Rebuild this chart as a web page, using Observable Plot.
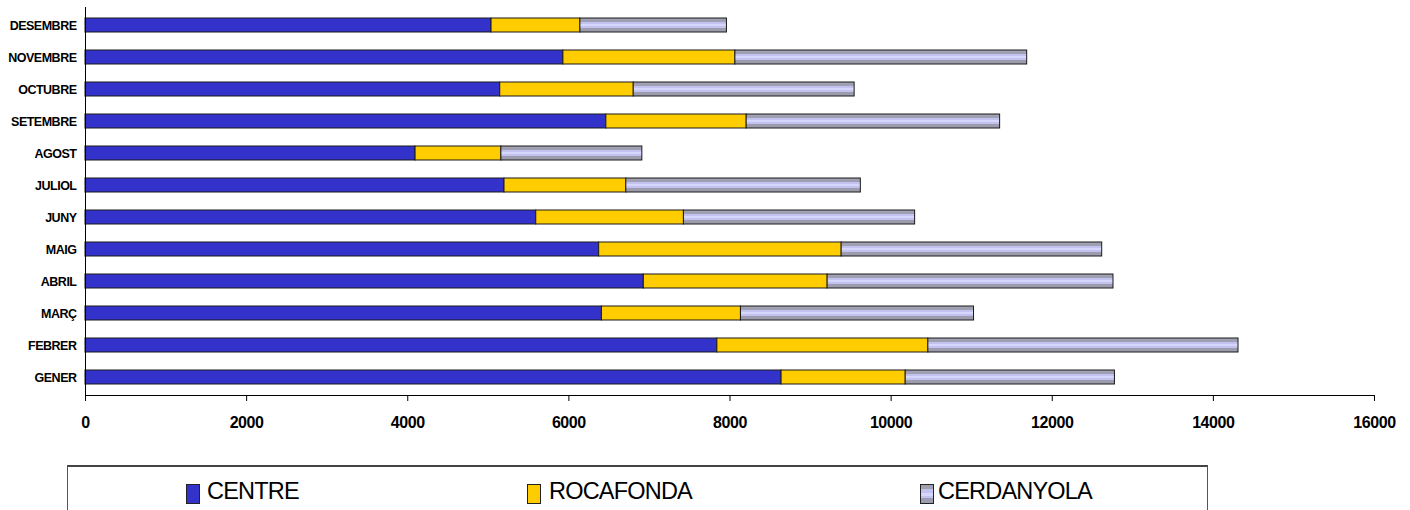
<!DOCTYPE html>
<html>
<head>
<meta charset="utf-8">
<script src="https://cdn.jsdelivr.net/npm/d3@7"></script>
<script src="https://cdn.jsdelivr.net/npm/@observablehq/plot@0.6"></script>
<style>
  body { margin: 0; background: #fff; font-family: "Liberation Sans", Arial, sans-serif; }
  #wrap { position: relative; width: 1410px; height: 510px; overflow: hidden; background: #fff; }
  #chart svg { display: block; font-family: "Liberation Sans", Arial, sans-serif; }
  g[aria-label="y-axis tick label"] text { letter-spacing: -0.5px; }
  g[aria-label="x-axis tick label"] text { letter-spacing: -0.4px; }
  #legend { position: absolute; left: 67px; top: 465px; width: 1141px; height: 80px;
            border: 1px solid #555; border-top: 2px solid #444; box-sizing: border-box; }
  .item { position: absolute; top: 14px; height: 24px; }
  .sw { position: absolute; top: 3px; width: 12px; height: 18px; border: 1px solid #222; box-sizing: content-box; }
  .lab { position: absolute; top: -4px; font-size: 23.5px; letter-spacing: -0.8px; color: #000; white-space: nowrap; line-height: 28px; }
</style>
</head>
<body>
<div id="wrap">
  <div id="chart"></div>
  <div id="legend"></div>
</div>
<script>
// ---- data ----
const months = ["GENER","FEBRER","MARÇ","ABRIL","MAIG","JUNY","JULIOL","AGOST","SETEMBRE","OCTUBRE","NOVEMBRE","DESEMBRE"];
const seriesNames = ["CENTRE","ROCAFONDA","CERDANYOLA"];
const centre     = [8640, 7843, 6410, 6930, 6376, 5595, 5201, 4097, 6465, 5148, 5932, 5040];
const rocafonda  = [1541, 2619, 1726, 2282, 3010, 1833, 1512, 1065, 1742, 1657, 2135, 1103];
const cerdanyola = [2597, 3850, 2893, 3548, 3234, 2870, 2911, 1750, 3146, 2742, 3622, 1819];
const xTicks = [0, 2000, 4000, 6000, 8000, 10000, 12000, 14000, 16000];

const seriesValues = [centre, rocafonda, cerdanyola];
const seriesFills = ["#3333cc", "#ffcc00", "url(#cerdGrad)"];

const data = [];
seriesNames.forEach((s, i) => {
  months.forEach((m, j) => data.push({ series: s, month: m, value: seriesValues[i][j] }));
});

const chart = Plot.plot({
  width: 1410,
  height: 440,
  marginLeft: 85,
  marginRight: 36,
  marginTop: 7,
  marginBottom: 45,
  style: { background: "#fff", color: "#000", fontFamily: "Liberation Sans, Arial, sans-serif" },
  x: { domain: [0, 16000], label: null },
  y: { domain: months.slice().reverse(), paddingInner: 0.57, paddingOuter: 0.285, label: null },
  color: { domain: seriesNames, range: seriesFills },
  marks: [
    Plot.barX(data, Plot.stackX({ order: seriesNames }, {
      x: "value", y: "month", z: "series", fill: "series",
      stroke: "#1a1a1a", strokeWidth: 1
    })),
    Plot.frame({ anchor: "left", stroke: "#000" }),
    Plot.frame({ anchor: "bottom", stroke: "#000" }),
    Plot.axisX({ ticks: xTicks, tickSize: 6, tickPadding: 15, fontSize: 16, fontWeight: "bold",
                 label: null, tickFormat: d => String(d) }),
    Plot.axisY({ tickSize: 0, tickPadding: 9, fontSize: 12.5, fontWeight: "bold", label: null })
  ]
});

// gradient for the striped CERDANYOLA fill
const defs = d3.select(chart).insert("defs", ":first-child");
const grad = defs.append("linearGradient").attr("id", "cerdGrad")
  .attr("x1", 0).attr("y1", 0).attr("x2", 0).attr("y2", 1);
[[0, "#a0a0b2"], [0.3, "#a0a0b2"], [0.3, "#c2c2ee"], [0.45, "#c2c2ee"], [0.45, "#d6d6ff"],
 [0.58, "#d6d6ff"], [0.58, "#c2c2ee"], [0.7, "#c2c2ee"], [0.7, "#9c9cae"], [1, "#9c9cae"]]
  .forEach(([o, c]) => grad.append("stop").attr("offset", o).attr("stop-color", c));

document.getElementById("chart").appendChild(chart);

// ---- legend ----
const legend = document.getElementById("legend");
const itemLeft = [118, 459, 852];
const swatchCss = [
  "background:#3333cc;",
  "background:#ffcc00;",
  "background:linear-gradient(#a0a0b2 0 25%, #c2c2ee 25% 45%, #d6d6ff 45% 60%, #c2c2ee 60% 75%, #9c9cae 75% 100%);"
];
const labelOffset = [21, 22, 18];
seriesNames.forEach((s, i) => {
  const it = document.createElement("div");
  it.className = "item";
  it.style.left = itemLeft[i] + "px";
  it.innerHTML = `<div class="sw" style="${swatchCss[i]}"></div><div class="lab" style="left:${labelOffset[i]}px">${s}</div>`;
  legend.appendChild(it);
});
</script>
</body>
</html>
